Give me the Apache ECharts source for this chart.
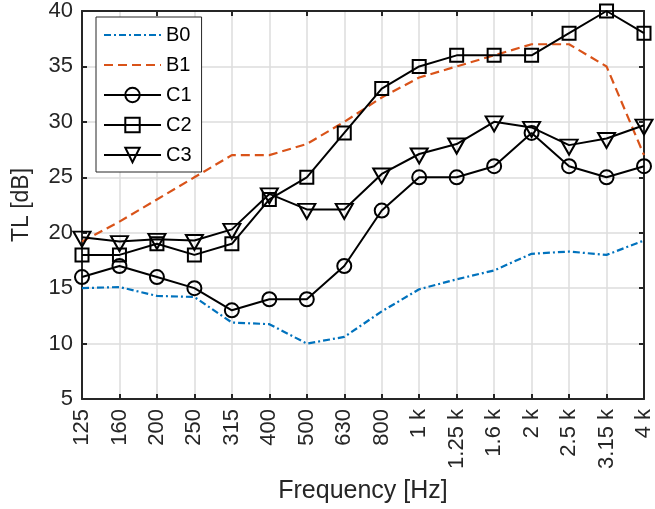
<!DOCTYPE html>
<html>
<head>
<meta charset="utf-8">
<script src="https://cdn.jsdelivr.net/npm/echarts@6/dist/echarts.min.js"></script>
<style>
  html, body { margin: 0; padding: 0; background: #fff; }
  #chart { width: 655px; height: 509px; }
</style>
</head>
<body>
<div id="chart"></div>
<script>
// Third-octave band centre frequencies
const bands = ['125', '160', '200', '250', '315', '400', '500', '630', '800',
  '1 k', '1.25 k', '1.6 k', '2 k', '2.5 k', '3.15 k', '4 k'];

// Transmission loss per band [dB]
const b0 = [15.0, 15.1, 14.3, 14.2, 11.9, 11.75, 10.0, 10.6, 12.9, 14.9, 15.8, 16.6, 18.1, 18.3, 18.0, 19.3];
const b1 = [19.2, 21.0, 23.0, 25.0, 27.0, 27.0, 28.0, 30.0, 32.2, 34.0, 35.0, 36.0, 37.0, 37.0, 35.0, 27.0];
const c1 = [16, 17, 16, 15, 13, 14, 14, 17, 22, 25, 25, 26, 29, 26, 25, 26];
const c2 = [18, 18, 19, 18, 19, 23, 25, 29, 33, 35, 36, 36, 36, 38, 40, 38];
const c3 = [19.6, 19.2, 19.4, 19.3, 20.3, 23.5, 22.1, 22.1, 25.3, 27.1, 28.0, 30.0, 29.5, 27.9, 28.5, 29.7];

const yTicks = { min: 5, max: 40, step: 5 };

const ink = '#262626';
const font = 'Liberation Sans, Arial, Helvetica, sans-serif';

// downward-pointing triangle marker
const triDown = 'path://M0,0 L17,0 L8.5,15 Z';

const chart = echarts.init(document.getElementById('chart'), null, { renderer: 'canvas' });

function measured(name, data, symbol, size, offset) {
  return {
    name, type: 'line', data,
    symbol, symbolSize: size, symbolOffset: offset || [0, 0],
    showAllSymbol: true,
    lineStyle: { color: '#000', width: 2 },
    itemStyle: { color: 'rgba(255,255,255,0)', borderColor: '#000', borderWidth: 2 },
    emphasis: { disabled: true },
    z: 3
  };
}

const axisLineStyle = { lineStyle: { color: ink, width: 2 } };
const tickStyle = { show: true, inside: true, length: 5, lineStyle: { color: ink, width: 2 } };
const hiddenMarker = { color: 'rgba(0,0,0,0)', borderWidth: 0, opacity: 0 };

chart.setOption({
  animation: false,
  backgroundColor: '#fff',
  textStyle: { fontFamily: font },
  grid: { left: 82, right: 9, top: 10, bottom: 109, containLabel: false },
  legend: {
    left: 96, top: 17,
    orient: 'vertical',
    backgroundColor: '#fff',
    borderColor: ink, borderWidth: 1,
    padding: [8, 10, 7, 7],
    itemWidth: 57, itemHeight: 18, itemGap: 10,
    textStyle: { fontSize: 20, color: '#000', fontFamily: font },
    data: [
      { name: 'B0', itemStyle: hiddenMarker },
      { name: 'B1', itemStyle: hiddenMarker },
      'C1', 'C2', 'C3'
    ]
  },
  xAxis: [{
    type: 'category', data: bands, boundaryGap: false,
    name: 'Frequency [Hz]', nameLocation: 'middle', nameGap: 80,
    nameTextStyle: { fontSize: 25, color: ink, fontFamily: font },
    axisLine: axisLineStyle,
    axisTick: { ...tickStyle, alignWithLabel: true },
    axisLabel: { rotate: 90, fontSize: 22, color: ink, margin: 10, fontFamily: font, interval: 0 },
    splitLine: { show: true, lineStyle: { color: '#dcdcdc', width: 1.5 } }
  }, {
    type: 'category', data: bands, boundaryGap: false, position: 'top',
    axisLine: axisLineStyle,
    axisTick: { ...tickStyle, alignWithLabel: true },
    axisLabel: { show: false }, splitLine: { show: false }
  }],
  yAxis: [{
    type: 'value', min: yTicks.min, max: yTicks.max, interval: yTicks.step,
    name: 'TL [dB]', nameLocation: 'middle', nameGap: 49,
    nameTextStyle: { fontSize: 23, color: ink, fontFamily: font },
    axisLine: { show: true, ...axisLineStyle },
    axisTick: tickStyle,
    axisLabel: { fontSize: 22, color: ink, margin: 9, fontFamily: font },
    splitLine: { show: true, lineStyle: { color: '#dcdcdc', width: 1.5 } }
  }, {
    type: 'value', min: yTicks.min, max: yTicks.max, interval: yTicks.step, position: 'right',
    axisLine: { show: true, ...axisLineStyle },
    axisTick: tickStyle,
    axisLabel: { show: false }, splitLine: { show: false }
  }],
  series: [
    {
      name: 'B0', type: 'line', data: b0, symbol: 'none',
      lineStyle: { color: '#0072BD', width: 2.2, type: [7, 3, 2, 3] },
      itemStyle: { color: '#0072BD' }, emphasis: { disabled: true }, z: 2
    },
    {
      name: 'B1', type: 'line', data: b1, symbol: 'none',
      lineStyle: { color: '#D95319', width: 2.2, type: [9, 5] },
      itemStyle: { color: '#D95319' }, emphasis: { disabled: true }, z: 2
    },
    measured('C1', c1, 'circle', 14),
    measured('C2', c2, 'rect', 13),
    measured('C3', c3, triDown, [17, 15], [0, 2])
  ]
});
</script>
</body>
</html>
